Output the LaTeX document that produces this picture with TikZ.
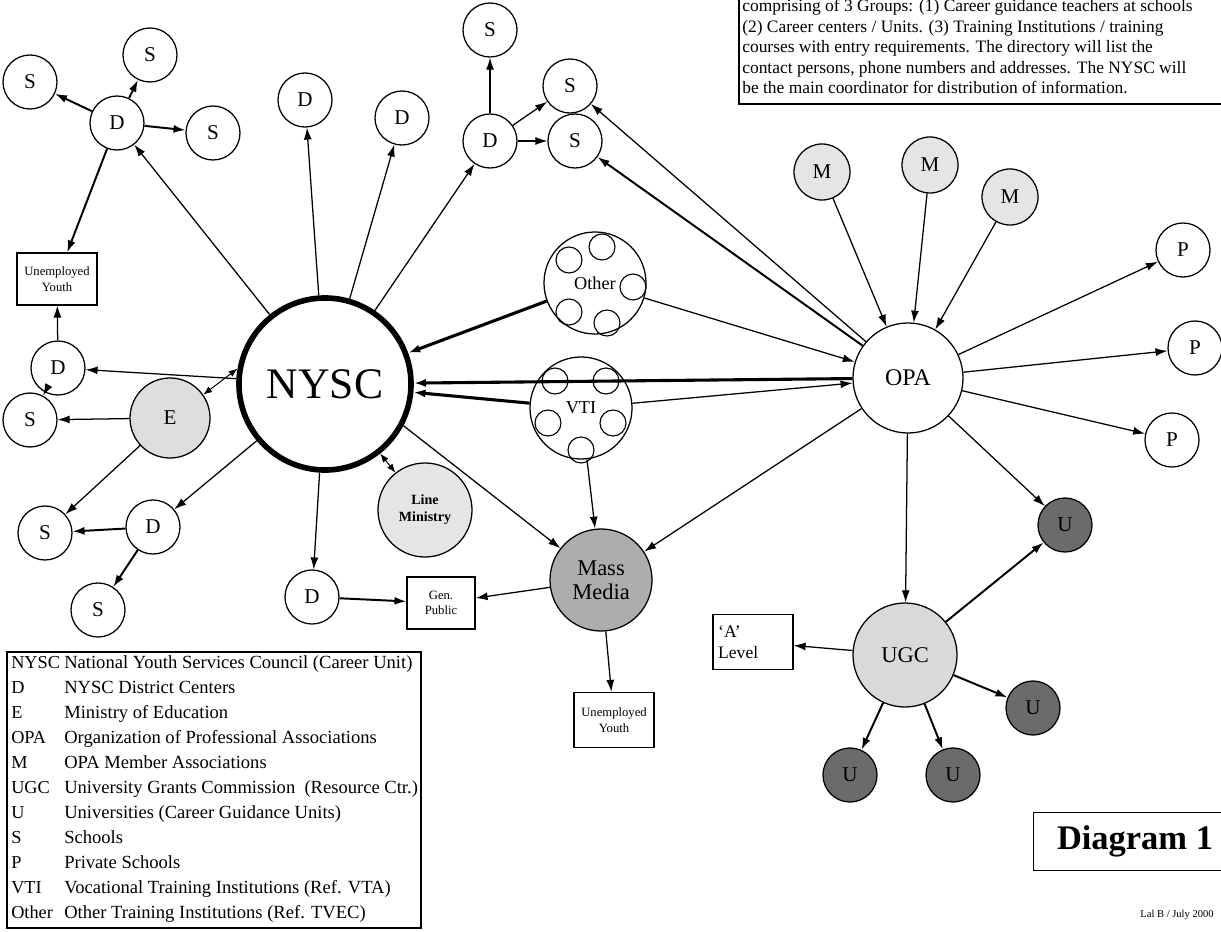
\documentclass[tikz,border=0pt]{standalone}
\usepackage{fontspec}
\setmainfont{Liberation Serif}
\usetikzlibrary{arrows.meta,calc}
\colorlet{palegrey}{black!10}
\colorlet{midgrey}{black!32}
\colorlet{darkgrey}{black!58}
\tikzset{
  place/.style={circle, draw, line width=0.9pt, minimum size=1.35cm, inner sep=0pt, font=\fontsize{15}{15}\selectfont},
  university/.style={place, fill=darkgrey},
  member/.style={place, fill=palegrey, minimum size=1.4cm},
  hub/.style={circle, draw, line width=0.9pt, minimum size=2.55cm, inner sep=0pt, align=center},
  group/.style={rectangle, draw, line width=0.8pt, align=center, inner sep=0pt, minimum width=2cm, minimum height=1.3cm, font=\fontsize{9}{11}\selectfont},
  flow/.style={-{Latex[length=3mm,width=2mm]}, line width=0.9pt},
  heavyflow/.style={flow, line width=1.4pt},
  mainflow/.style={flow, line width=2.2pt},
  twoway/.style={{Latex[length=2.2mm,width=1.7mm]}-{Latex[length=2.2mm,width=1.7mm]}, line width=0.7pt},
  institute/.style={line width=0.8pt},
}

\begin{document}
\begin{tikzpicture}[x=0.025cm, y=-0.025cm]
  \clip (0,0) rectangle (1221,932);

  % centre and hubs
  \node (nysc) [circle, draw, line width=4pt, minimum size=4.3cm, font=\fontsize{31}{31}\selectfont] at (325,384) {NYSC};
  \node (opa) [hub, minimum size=2.75cm, font=\fontsize{17}{17}\selectfont] at (908,378) {OPA};
  \node (ugc) [hub, minimum size=2.6cm, fill=black!15, font=\fontsize{16}{16}\selectfont] at (905,655) {UGC};
  \node (other) [hub, font=\fontsize{13}{13}\selectfont] at (595,283) {Other};
  \node (vti) [hub, font=\fontsize{13}{13}\selectfont] at (581,408) {VTI};
  \node (media) [hub, fill=midgrey, font=\fontsize{16}{17}\selectfont] at (601,580) {Mass\\Media};
  \node (line) [hub, minimum size=2.35cm, fill=palegrey, font=\bfseries\fontsize{10}{12}\selectfont] at (425,510) {Line\\Ministry};
  \node (edu) [place, fill=black!13, minimum size=2cm] at (170,418) {E};
  \foreach \dx/\dy in {-26/-23, 7/-36, 38/4, -26/29, 12/40}
    \draw[institute] ($(other)+(\dx,\dy)$) circle[radius=0.325cm];
  \foreach \dx/\dy in {-26/-27, 25/-27, -33/15, 32/15, 0/42}
    \draw[institute] ($(vti)+(\dx,\dy)$) circle[radius=0.325cm];

  % districts and schools
  \node (d1) [place] at (117,123) {D};
  \node (s1) [place] at (30,82) {S};
  \node (s2) [place] at (150,55) {S};
  \node (s3) [place] at (213,133) {S};
  \node (youthA) [group] at (57,279) {Unemployed\\Youth};
  \node (d2) [place] at (58,368) {D};
  \node (s4) [place] at (30,420) {S};
  \node (s5) [place] at (45,533) {S};
  \node (d3) [place] at (153,527) {D};
  \node (s6) [place] at (98,610) {S};
  \node (d4) [place] at (305,100) {D};
  \node (d5) [place] at (402,118) {D};
  \node (d6) [place] at (490,141) {D};
  \node (s7) [place] at (490,30) {S};
  \node (s8) [place] at (570,86) {S};
  \node (s9) [place] at (575,141) {S};
  \node (d7) [place] at (312,597) {D};
  \node (public) [group, minimum width=1.7cm] at (441,603) {Gen.\\Public};
  \node (youthB) [group, minimum height=1.375cm] at (614,720) {Unemployed\\Youth};

  % OPA side
  \node (m1) [member] at (822,172) {M};
  \node (m2) [member] at (930,165) {M};
  \node (m3) [member] at (1010,197) {M};
  \node (p1) [place] at (1183,250) {P};
  \node (p2) [place] at (1195,348) {P};
  \node (p3) [place] at (1172,440) {P};
  \node (alevel) [group, minimum height=1.375cm, inner xsep=0.13cm, text width=1.74cm, align=left, font=\fontsize{12.5}{15}\selectfont] at (753,642) {`A'\\Level};
  \node (u1) [university] at (1065,525) {U};
  \node (u2) [university] at (1033,708) {U};
  \node (u3) [university] at (850,775) {U};
  \node (u4) [university] at (953,775) {U};

  % connectors
  \draw[mainflow] (other) -- (nysc);
  \draw[mainflow] (opa) -- (nysc);
  \draw[mainflow] (vti) -- (nysc);
  \foreach \t in {d1, d2, d3, d4, d5, d6, d7}
    \draw[flow] (nysc) -- (\t);
  \draw[flow] (nysc.-28) -- (media);
  \draw[twoway] (edu.35) -- (nysc.170);
  \draw[twoway] (nysc) -- (line);
  \foreach \t in {s1, s2, s3, youthA}
    \draw[heavyflow] (d1) -- (\t);
  \draw[flow] (d2) -- (youthA);
  \draw[flow] (d2) -- (s4);
  \draw[flow] (edu) -- (s4);
  \draw[flow] (edu) -- (s5);
  \draw[heavyflow] (d3) -- (s5);
  \draw[heavyflow] (d3) -- (s6);
  \foreach \t in {s7, s8, s9}
    \draw[flow] (d6) -- (\t);
  \draw[flow] (opa) -- (s8);
  \draw[heavyflow] (opa) -- (s9);
  \draw[flow] (other) -- (opa);
  \draw[flow] (vti) -- (opa);
  \draw[flow] (vti) -- (media);
  \draw[flow] (opa) -- (media);
  \draw[flow] (media) -- (public);
  \draw[heavyflow] (d7) -- (public);
  \draw[flow] (media) -- (youthB);
  \foreach \s in {m1, m2, m3}
    \draw[flow] (\s) -- (opa);
  \foreach \t in {p1, p2, p3, ugc, u1}
    \draw[flow] (opa) -- (\t);
  \draw[flow] (ugc) -- (alevel);
  \foreach \t in {u1, u2, u3, u4}
    \draw[heavyflow] (ugc) -- (\t);

  % note, legend and title
  \draw[line width=0.8pt] (739,-20) rectangle (1240,104);
  \foreach \txt [count=\i] in {comprising of 3 Groups: (1) Career guidance teachers at schools,
      (2) Career centers / Units. (3) Training Institutions / training,
      courses with entry requirements. The directory will list the,
      contact persons{,} phone numbers and addresses. The NYSC will,
      be the main coordinator for distribution of information.}
    \node[anchor=base west, inner sep=0pt, font=\fontsize{12.4}{14}\selectfont] at (742,{12+20.4*(\i-1)}) {\txt};

  \draw[line width=0.8pt] (7,652) rectangle (421,928);
  \foreach \ab/\txt [count=\i] in {NYSC/National Youth Services Council (Career Unit),
      D/NYSC District Centers, E/Ministry of Education,
      OPA/Organization of Professional Associations, M/OPA Member Associations,
      UGC/University Grants Commission\ \ (Resource Ctr.), U/Universities (Career Guidance Units),
      S/Schools, P/Private Schools, VTI/Vocational Training Institutions (Ref. VTA),
      Other/Other Training Institutions (Ref. TVEC)}
  {
    \node[anchor=base west, inner sep=0pt, font=\fontsize{13}{14}\selectfont] at (11,{668+25*(\i-1)}) {\ab};
    \node[anchor=base west, inner sep=0pt, font=\fontsize{13.2}{14}\selectfont] at (64,{668+25*(\i-1)}) {\txt};
  }

  \node (title) [draw, line width=0.8pt, minimum width=5.2cm, minimum height=1.45cm, anchor=north west] at (1033,812) {};
  \node at (1135,841) [font=\bfseries\fontsize{24.5}{25}\selectfont] {Diagram 1};
  \node (credit) at (1177,915) [font=\fontsize{7.5}{9}\selectfont] {Lal B / July 2000};
\end{tikzpicture}
\end{document}
